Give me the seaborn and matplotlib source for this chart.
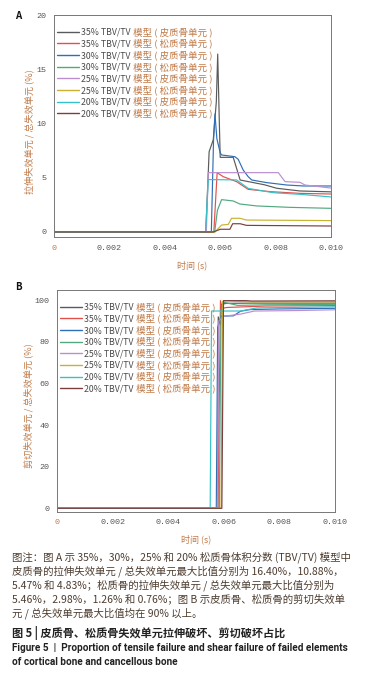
import pandas as pd
import seaborn as sns
import matplotlib.pyplot as plt

# ================= 数据 =================
series_names = ['35% TBV/TV 模型 ( 皮质骨单元 )', '35% TBV/TV 模型 ( 松质骨单元 )',
                '30% TBV/TV 模型 ( 皮质骨单元 )', '30% TBV/TV 模型 ( 松质骨单元 )',
                '25% TBV/TV 模型 ( 皮质骨单元 )', '25% TBV/TV 模型 ( 松质骨单元 )',
                '20% TBV/TV 模型 ( 皮质骨单元 )', '20% TBV/TV 模型 ( 松质骨单元 )']
line_colors = ['#5a5a5a', '#e2504c', '#2f6fb5', '#52a97f',
               '#b98fd2', '#c9b233', '#35c2c8', '#7b3f3f']

# 图 A：拉伸失效单元 / 总失效单元 (%)
a_t_35c = [0, 0.00548, 0.00560, 0.00575, 0.00586, 0.00591, 0.00596, 0.00600, 0.00647, 0.00672, 0.00714, 0.00760, 0.00804, 0.00888, 0.0100]
a_v_35c = [0, 0, 7.4, 8.5, 12.0, 16.4, 11.0, 6.88, 6.88, 4.79, 4.58, 4.35, 4.03, 3.78, 3.70]
a_t_35s = [0, 0.00577, 0.00589, 0.00611, 0.00659, 0.00701, 0.00780, 0.00888, 0.0100]
a_v_35s = [0, 0, 5.46, 5.10, 4.64, 3.93, 3.72, 3.56, 3.50]
a_t_30c = [0, 0.00568, 0.00576, 0.00581, 0.00588, 0.00600, 0.00605, 0.00653, 0.00665, 0.00683, 0.00701, 0.00714, 0.00768, 0.00840, 0.00900, 0.0100]
a_v_30c = [0, 0, 8.5, 10.88, 8.6, 7.3, 7.1, 6.94, 6.7, 5.71, 5.1, 4.79, 4.55, 4.33, 4.24, 4.24]
a_t_30s = [0, 0.00580, 0.00590, 0.00605, 0.00647, 0.00671, 0.00732, 0.00852, 0.0100]
a_v_30s = [0, 0, 2.0, 2.98, 2.86, 2.58, 2.40, 2.27, 2.18]
a_t_25c = [0, 0.00550, 0.00557, 0.00810, 0.00834, 0.00888, 0.00906, 0.0100]
a_v_25c = [0, 0, 5.47, 5.47, 4.64, 4.58, 4.33, 4.05]
a_t_25s = [0, 0.00581, 0.00605, 0.00629, 0.00641, 0.00672, 0.00695, 0.0100]
a_v_25s = [0, 0, 0.64, 0.70, 1.26, 1.26, 1.10, 1.05]
a_t_20c = [0, 0.00547, 0.00557, 0.00659, 0.00701, 0.00792, 0.00888, 0.0100]
a_v_20c = [0, 0, 4.83, 4.80, 4.02, 3.62, 3.47, 3.23]
a_t_20s = [0, 0.00575, 0.00600, 0.00635, 0.00645, 0.00672, 0.00695, 0.0100]
a_v_20s = [0, 0, 0.25, 0.25, 0.76, 0.76, 0.61, 0.55]

# 图 B：剪切失效单元 / 总失效单元 (%)
b_t_35c = [0, 0.00578, 0.00580, 0.00588, 0.00590, 0.00610, 0.00700, 0.0100]
b_v_35c = [0, 0, 92.0, 88.0, 98.0, 98.5, 98.6, 98.6]
b_t_35s = [0, 0.00579, 0.00588, 0.00592, 0.00610, 0.00750, 0.0100]
b_v_35s = [0, 0, 99.8, 96.0, 96.5, 97.2, 97.4]
b_t_30c = [0, 0.00573, 0.00578, 0.00590, 0.00635, 0.00660, 0.00695, 0.00800, 0.0100]
b_v_30c = [0, 0, 87.0, 92.3, 92.5, 94.7, 95.5, 95.8, 96.1]
b_t_30s = [0, 0.00584, 0.00590, 0.00600, 0.00650, 0.00750, 0.0100]
b_v_30s = [0, 0, 95.0, 99.0, 97.5, 97.8, 98.0]
b_t_25c = [0, 0.00577, 0.00582, 0.00600, 0.00660, 0.00710, 0.00850, 0.0100]
b_v_25c = [0, 0, 90.0, 92.3, 93.3, 94.8, 95.0, 95.4]
b_t_25s = [0, 0.00590, 0.00596, 0.00610, 0.00700, 0.0100]
b_v_25s = [0, 0, 99.5, 99.6, 99.2, 99.2]
b_t_20c = [0, 0.00551, 0.00556, 0.00660, 0.00720, 0.0100]
b_v_20c = [0, 0, 94.8, 94.8, 96.3, 96.8]
b_t_20s = [0, 0.00593, 0.00599, 0.00680, 0.00700, 0.0100]
b_v_20s = [0, 0, 99.8, 99.8, 99.6, 99.7]

x_ticks = [0, 0.002, 0.004, 0.006, 0.008, 0.010]
x_tick_labels = ['0', '0.002', '0.004', '0.006', '0.008', '0.010']
a_y_ticks = [0, 5, 10, 15, 20]
b_y_ticks = [0, 20, 40, 60, 80, 100]

caption_lines = [
    '图注：图 A 示 35%，30%，25% 和 20% 松质骨体积分数 (TBV/TV) 模型中',
    '皮质骨的拉伸失效单元 / 总失效单元最大比值分别为 16.40%，10.88%，',
    '5.47% 和 4.83%；松质骨的拉伸失效单元 / 总失效单元最大比值分别为',
    '5.46%，2.98%，1.26% 和 0.76%；图 B 示皮质骨、松质骨的剪切失效单',
    '元 / 总失效单元最大比值均在 90% 以上。',
]
title_cn = '图 5 | 皮质骨、松质骨失效单元拉伸破坏、剪切破坏占比'
title_en = ['Figure 5  |  Proportion of tensile failure and shear failure of failed elements',
            'of cortical bone and cancellous bone']

# ================= 样式 =================
sns.set_theme(style='white')
plt.rcParams['font.family'] = ['Noto Sans CJK SC', 'DejaVu Sans']
label_color = '#c07a48'
tick_color = '#555555'


def long_frame(times, values):
    rows = []
    for name, t, v in zip(series_names, times, values):
        rows.append(pd.DataFrame({'t': t, 'v': v, 'series': name}))
    return pd.concat(rows, ignore_index=True)


df_a = long_frame([a_t_35c, a_t_35s, a_t_30c, a_t_30s, a_t_25c, a_t_25s, a_t_20c, a_t_20s],
                  [a_v_35c, a_v_35s, a_v_30c, a_v_30s, a_v_25c, a_v_25s, a_v_20c, a_v_20s])
df_b = long_frame([b_t_35c, b_t_35s, b_t_30c, b_t_30s, b_t_25c, b_t_25s, b_t_20c, b_t_20s],
                  [b_v_35c, b_v_35s, b_v_30c, b_v_30s, b_v_25c, b_v_25s, b_v_20c, b_v_20s])
palette = dict(zip(series_names, line_colors))

W, H = 370, 684
fig = plt.figure(figsize=(W / 100, H / 100), dpi=100)
ax_a = fig.add_axes([54 / W, 1 - 237.3 / H, 277 / W, 222.3 / H])
ax_b = fig.add_axes([57 / W, 1 - 511.7 / H, 278 / W, 221.7 / H])


def draw_panel(ax, df, ylim, yticks, ylabel, legend_top, label_x):
    sns.lineplot(data=df, x='t', y='v', hue='series', palette=palette,
                 estimator=None, sort=False, linewidth=0.85, ax=ax)
    ax.set_xlim(0, 0.010)
    ax.set_ylim(*ylim)
    ax.set_xticks(x_ticks)
    ax.set_xticklabels(x_tick_labels, family='Liberation Mono', fontsize=6.0, color=tick_color)
    ax.set_yticks(yticks)
    ax.set_yticklabels([str(y) for y in yticks], family='Liberation Mono', fontsize=6.0, color=tick_color)
    ax.get_xticklabels()[0].set_color(label_color)
    ax.tick_params(direction='out', length=3.5, width=0.6, color='#555555', pad=2)
    for _, spine in ax.spines.items():
        spine.set_visible(True)
        spine.set_linewidth(0.7)
        spine.set_color('#777777')
    ax.set_xlabel('时间 (s)', fontsize=6.5, color=label_color)
    ax.xaxis.set_label_coords(0.5, -0.125)
    ax.xaxis.label.set_va('center')
    ax.set_ylabel(ylabel, fontsize=6.6, color=label_color)
    ax.yaxis.set_label_coords(label_x, 0.477)
    ax.yaxis.label.set_va('center')

    leg = ax.legend(loc='upper left', bbox_to_anchor=(0.012, legend_top), frameon=False,
                    fontsize=6.3, handlelength=2.5, handletextpad=0.25, labelspacing=0.3,
                    borderpad=0, borderaxespad=0)
    for line in leg.get_lines():
        line.set_linewidth(1.0)
    for txt, name in zip(leg.get_texts(), series_names):
        head, tail = name.split(' 模型')
        txt.set_text(head)
        txt.set_color('#4a4a4a')
        # 图例中文部分用另一种颜色，接在数字后面
        ax.annotate(' 模型' + tail, xy=(1, 0), xycoords=txt, va='bottom', ha='left',
                    fontsize=6.8, color=label_color, zorder=10)


draw_panel(ax_a, df_a, (-0.49, 20), a_y_ticks, '拉伸失效单元 / 总失效单元 (%)', 0.942, -0.090)
draw_panel(ax_b, df_b, (-1.63, 104.9), b_y_ticks, '剪切失效单元 / 总失效单元 (%)', 0.942, -0.104)

fig.text(18 / W, 1 - 16 / H, 'A', fontsize=7, fontweight='bold', color='#111111', ha='center', va='center')
fig.text(18 / W, 1 - 287 / H, 'B', fontsize=7, fontweight='bold', color='#111111', ha='center', va='center')

# 图注
for i, line in enumerate(caption_lines):
    fig.text(12 / W, 1 - (557 + 14.1 * i) / H, line, fontsize=7.5, color='#4d3d30', va='center', ha='left')
fig.text(12 / W, 1 - 633 / H, title_cn, fontsize=8.0, fontweight='bold', color='#222222', va='center', ha='left')
for i, line in enumerate(title_en):
    fig.text(12 / W, 1 - (648 + 14.3 * i) / H, line, fontsize=7.2, fontweight='bold', color='#222222',
             va='center', ha='left', family=['Liberation Sans Narrow', 'Roboto', 'DejaVu Sans'])

fig.savefig('out.png', dpi=100)
